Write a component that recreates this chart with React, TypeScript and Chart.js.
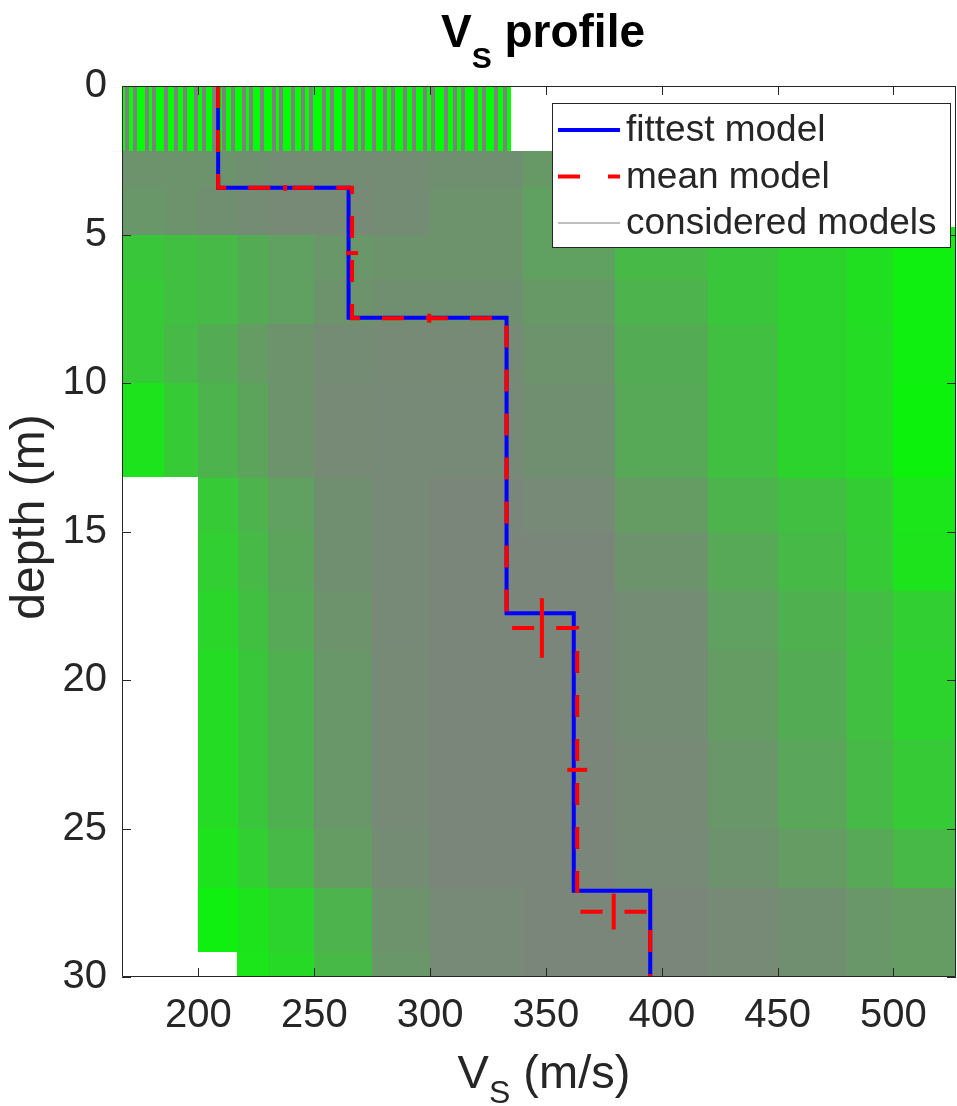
import React, { useEffect, useRef } from "react";
import { Chart, registerables } from "chart.js";

Chart.register(...registerables);

// ---- axes ----
const X_MIN = 167;
const X_MAX = 527;
const DEPTH_MAX = 30;
const xTicks = [200, 250, 300, 350, 400, 450, 500];
const yTicks = [0, 5, 10, 15, 20, 25, 30];

// ---- fittest model (layer Vs in m/s, interface depths in m) ----
const fittestVs = [208.5, 264.8, 333, 362, 395];
const fittestDepths = [3.43, 7.8, 17.75, 27.1];

// ---- mean model with standard deviations ----
const meanVs = [208.5, 266.3, 333, 363.5, 395];
const meanDepths = [3.43, 7.82, 18.25, 27.8];
const meanVsStd = [0.6, 2.6, 0.8, 4.3];
const meanDepthStd = [0.1, 0.15, 1.0, 0.6];

// ---- envelope of the considered models (depth bands) ----
const envTop = [0, 2.2, 4.75, 13.17, 29.15];
const envBottom = [2.2, 4.75, 13.17, 29.15, 30];
const envMinVs = [150, 150, 150, 200, 216.8];
const envMaxVs = [335, 470, 560, 560, 560];

// ---- first-layer Vs of the considered models (top layer, 0 - 2.2 m) ----
const topLayerVs = [
  169.0, 172.4, 177.6, 180.6, 185.8, 190.5, 194.0, 199.1, 202.2, 206.9, 211.2, 215.1, 219.8,
  222.8, 227.6, 232.8, 235.8, 240.9, 245.3, 248.7, 254.3, 257.8, 262.9, 268.1, 271.1, 275.9,
  280.6, 284.1, 289.2, 293.1, 297.8, 301.3, 306.9, 310.8, 314.2, 319.8, 323.3, 328.4, 332.3,
];
const TOP_LAYER_BOTTOM = 2.2;

// ---- share of the considered models covering each depth/Vs cell ----
const densityDepthEdges = [0, 2.2, 3.4, 5, 6.5, 8, 10, 13.2, 15, 17, 19, 22, 25, 27, 29.2, 30];
const densityVsEdges = [150, 185, 200, 217, 230, 250, 275, 300, 340, 380, 420, 450, 480, 500, 560];
const densityRows = [
  [0, 0, 0, 0, 0, 0, 0, 0, 0, 0, 0, 0, 0, 0],
  [0.85, 0.85, 0.85, 0.88, 0.9, 0.9, 0.9, 0.88, 0.8, 0.5, 0.45, 0.4, 0.35, 0.3],
  [0.82, 0.85, 0.88, 0.9, 0.92, 0.92, 0.9, 0.85, 0.75, 0.55, 0.45, 0.4, 0.3, 0.2],
  [0.45, 0.5, 0.55, 0.65, 0.75, 0.82, 0.85, 0.85, 0.75, 0.55, 0.45, 0.35, 0.25, 0.12],
  [0.42, 0.5, 0.55, 0.65, 0.75, 0.85, 0.88, 0.88, 0.8, 0.6, 0.45, 0.35, 0.25, 0.12],
  [0.42, 0.55, 0.65, 0.78, 0.85, 0.9, 0.92, 0.92, 0.85, 0.65, 0.5, 0.35, 0.28, 0.12],
  [0.22, 0.42, 0.6, 0.72, 0.85, 0.92, 0.93, 0.93, 0.88, 0.68, 0.5, 0.35, 0.28, 0.1],
  [0, 0, 0.42, 0.6, 0.75, 0.88, 0.93, 0.95, 0.93, 0.78, 0.6, 0.5, 0.4, 0.2],
  [0, 0, 0.38, 0.55, 0.72, 0.88, 0.93, 0.95, 0.95, 0.85, 0.68, 0.55, 0.42, 0.22],
  [0, 0, 0.32, 0.5, 0.68, 0.85, 0.93, 0.95, 0.95, 0.9, 0.75, 0.62, 0.52, 0.38],
  [0, 0, 0.28, 0.45, 0.62, 0.82, 0.92, 0.95, 0.95, 0.9, 0.78, 0.65, 0.5, 0.35],
  [0, 0, 0.28, 0.45, 0.62, 0.82, 0.92, 0.95, 0.95, 0.92, 0.82, 0.7, 0.55, 0.42],
  [0, 0, 0.22, 0.38, 0.55, 0.78, 0.9, 0.95, 0.95, 0.93, 0.86, 0.78, 0.68, 0.55],
  [0, 0, 0.12, 0.22, 0.35, 0.6, 0.85, 0.93, 0.95, 0.95, 0.92, 0.88, 0.82, 0.78],
  [0, 0, 0.12, 0.2, 0.3, 0.55, 0.82, 0.93, 0.95, 0.95, 0.92, 0.88, 0.82, 0.78],
];

const FONT = '"Liberation Sans", Arial, Helvetica, sans-serif';
const INK = "#262626";
const GREEN = "#00ff00";
const GRAY = "128,128,128";

type Pt = { x: number; y: number };

// Step profile: each layer is a vertical segment, each interface a horizontal one.
function stepProfile(vs: number[], depths: number[]): Pt[] {
  const pts: Pt[] = [];
  vs.forEach((v, i) => {
    const top = i === 0 ? 0 : depths[i - 1];
    const bottom = i < depths.length ? depths[i] : DEPTH_MAX;
    pts.push({ x: v, y: top }, { x: v, y: bottom });
  });
  return pts;
}

function errorBars(): Pt[][] {
  const bars: Pt[][] = [];
  meanVsStd.forEach((s, i) => {
    const top = i === 0 ? 0 : meanDepths[i - 1];
    const bottom = meanDepths[i];
    const mid = (top + bottom) / 2;
    bars.push([
      { x: meanVs[i] - s, y: mid },
      { x: meanVs[i] + s, y: mid },
    ]);
  });
  meanDepthStd.forEach((s, i) => {
    const v = (meanVs[i] + meanVs[i + 1]) / 2;
    bars.push([
      { x: v, y: meanDepths[i] - s },
      { x: v, y: meanDepths[i] + s },
    ]);
  });
  return bars;
}

type Part = { text: string; size: number; bold?: boolean; drop?: number };

function drawParts(ctx: CanvasRenderingContext2D, parts: Part[], cx: number, baseline: number) {
  const fontOf = (p: Part) => `${p.bold ? "bold " : ""}${p.size}px ${FONT}`;
  let total = 0;
  parts.forEach((p) => {
    ctx.font = fontOf(p);
    total += ctx.measureText(p.text).width;
  });
  let x = cx - total / 2;
  ctx.textAlign = "left";
  ctx.textBaseline = "alphabetic";
  parts.forEach((p) => {
    ctx.font = fontOf(p);
    ctx.fillText(p.text, x, baseline + (p.drop || 0));
    x += ctx.measureText(p.text).width;
  });
}

const spreadPlugin = {
  id: "modelSpread",
  beforeDatasetsDraw(chart: any) {
    const { ctx, chartArea: a, scales } = chart;
    const xs = scales.x;
    const ys = scales.y;
    const px = (v: number) => Math.round(xs.getPixelForValue(v));
    const py = (d: number) => Math.round(ys.getPixelForValue(d));
    ctx.save();
    ctx.beginPath();
    ctx.rect(a.left, a.top, a.right - a.left, a.bottom - a.top);
    ctx.clip();
    ctx.beginPath();
    envTop.forEach((t, i) => {
      const x0 = px(envMinVs[i]);
      const x1 = px(envMaxVs[i]);
      const y0 = py(t);
      const y1 = py(envBottom[i]);
      ctx.rect(x0, y0, x1 - x0, y1 - y0);
    });
    ctx.fillStyle = GREEN;
    ctx.fill();
    ctx.clip();
    densityRows.forEach((row, r) => {
      const y0 = py(densityDepthEdges[r]);
      const y1 = py(densityDepthEdges[r + 1]);
      row.forEach((c, k) => {
        if (c <= 0) return;
        const x0 = px(densityVsEdges[k]);
        const x1 = px(densityVsEdges[k + 1]);
        ctx.fillStyle = `rgba(${GRAY},${c})`;
        ctx.fillRect(x0, y0, x1 - x0, y1 - y0);
      });
    });
    // top-layer lines of the considered models
    ctx.fillStyle = `rgb(${GRAY})`;
    const yb = py(TOP_LAYER_BOTTOM);
    topLayerVs.forEach((v) => {
      const x = px(v);
      ctx.fillRect(x - 2, a.top, 4, yb - a.top);
    });
    ctx.restore();
  },
};

const framePlugin = {
  id: "frameAndText",
  afterDraw(chart: any) {
    const { ctx, chartArea: a, scales } = chart;
    const xs = scales.x;
    const ys = scales.y;
    ctx.save();
    // box and inward ticks
    ctx.strokeStyle = INK;
    ctx.lineWidth = 1;
    ctx.beginPath();
    ctx.rect(a.left + 0.5, a.top + 0.5, a.right - a.left - 1, a.bottom - a.top - 1);
    const tl = 9;
    xTicks.forEach((v) => {
      const x = Math.round(xs.getPixelForValue(v)) + 0.5;
      ctx.moveTo(x, a.top);
      ctx.lineTo(x, a.top + tl);
      ctx.moveTo(x, a.bottom);
      ctx.lineTo(x, a.bottom - tl);
    });
    yTicks.forEach((d) => {
      const y = Math.round(ys.getPixelForValue(d)) + 0.5;
      ctx.moveTo(a.left, y);
      ctx.lineTo(a.left + tl, y);
      ctx.moveTo(a.right, y);
      ctx.lineTo(a.right - tl, y);
    });
    ctx.stroke();

    // legend
    const lx = 552.5;
    const ly = 103.5;
    const lw = 398;
    const lh = 144;
    ctx.fillStyle = "#ffffff";
    ctx.fillRect(lx, ly, lw, lh);
    ctx.strokeStyle = INK;
    ctx.lineWidth = 1;
    ctx.strokeRect(lx, ly, lw, lh);
    const rows = [
      { label: "fittest model", color: "#0000ff", width: 4, dash: [] as number[] },
      { label: "mean model", color: "#ff0000", width: 4, dash: [22, 28] },
      { label: "considered models", color: `rgb(${GRAY})`, width: 1, dash: [] as number[] },
    ];
    rows.forEach((r, i) => {
      const y = 130 + i * 46.5;
      ctx.beginPath();
      ctx.setLineDash(r.dash);
      ctx.strokeStyle = r.color;
      ctx.lineWidth = r.width;
      ctx.moveTo(558, y);
      ctx.lineTo(620, y);
      ctx.stroke();
      ctx.setLineDash([]);
      ctx.fillStyle = INK;
      ctx.font = `37px ${FONT}`;
      ctx.textAlign = "left";
      ctx.textBaseline = "middle";
      ctx.fillText(r.label, 626, y + 1);
    });

    // title and axis labels
    ctx.fillStyle = "#000000";
    drawParts(
      ctx,
      [
        { text: "V", size: 46, bold: true },
        { text: "S", size: 30, bold: true, drop: 21 },
        { text: " profile", size: 46, bold: true },
      ],
      543,
      47
    );
    ctx.fillStyle = INK;
    drawParts(
      ctx,
      [
        { text: "V", size: 47 },
        { text: "S", size: 32, drop: 15 },
        { text: " (m/s)", size: 47 },
      ],
      544,
      1088
    );
    ctx.save();
    ctx.translate(44, 517);
    ctx.rotate(-Math.PI / 2);
    ctx.font = `48px ${FONT}`;
    ctx.textAlign = "center";
    ctx.textBaseline = "alphabetic";
    ctx.fillText("depth (m)", 0, 0);
    ctx.restore();
    ctx.restore();
  },
};

export default function App() {
  const canvasRef = useRef<HTMLCanvasElement | null>(null);

  useEffect(() => {
    document.body.style.margin = "0";
    const canvas = canvasRef.current;
    if (!canvas) return;
    const bars = errorBars();
    const chart = new Chart(canvas, {
      type: "scatter",
      data: {
        datasets: [
          ...bars.map((b) => ({
            label: "mean model std",
            data: b,
            showLine: true,
            borderColor: "#ff0000",
            borderWidth: 4,
            pointRadius: 0,
            order: 0,
          })),
          {
            label: "mean model",
            data: stepProfile(meanVs, meanDepths),
            showLine: true,
            borderColor: "#ff0000",
            borderWidth: 4,
            borderDash: [22, 22],
            pointRadius: 0,
            order: 1,
          },
          {
            label: "fittest model",
            data: stepProfile(fittestVs, fittestDepths),
            showLine: true,
            borderColor: "#0000ff",
            borderWidth: 4,
            pointRadius: 0,
            order: 2,
          },
        ],
      },
      options: {
        responsive: false,
        animation: false,
        events: [],
        layout: { padding: { top: 86, right: 1, left: 0, bottom: 0 } },
        plugins: {
          legend: { display: false },
          tooltip: { enabled: false },
          title: { display: false },
        },
        scales: {
          x: {
            type: "linear",
            min: X_MIN,
            max: X_MAX,
            afterBuildTicks: (s: any) => {
              s.ticks = xTicks.map((v) => ({ value: v }));
            },
            afterFit: (s: any) => {
              s.height = 129;
            },
            grid: { display: false, drawTicks: false },
            border: { display: false },
            ticks: {
              font: { family: FONT, size: 40 },
              color: INK,
              padding: 15,
              maxRotation: 0,
              autoSkip: false,
            },
          },
          y: {
            type: "linear",
            reverse: true,
            min: 0,
            max: DEPTH_MAX,
            afterBuildTicks: (s: any) => {
              s.ticks = yTicks.map((v) => ({ value: v }));
            },
            afterFit: (s: any) => {
              s.width = 122;
            },
            grid: { display: false, drawTicks: false },
            border: { display: false },
            ticks: {
              font: { family: FONT, size: 40 },
              color: INK,
              padding: 15,
              autoSkip: false,
            },
          },
        },
      },
      plugins: [spreadPlugin, framePlugin],
    } as any);
    return () => chart.destroy();
  }, []);

  return (
    <div style={{ width: 957, height: 1106, background: "#ffffff" }}>
      <canvas ref={canvasRef} width={957} height={1106} style={{ display: "block", width: 957, height: 1106 }} />
    </div>
  );
}
